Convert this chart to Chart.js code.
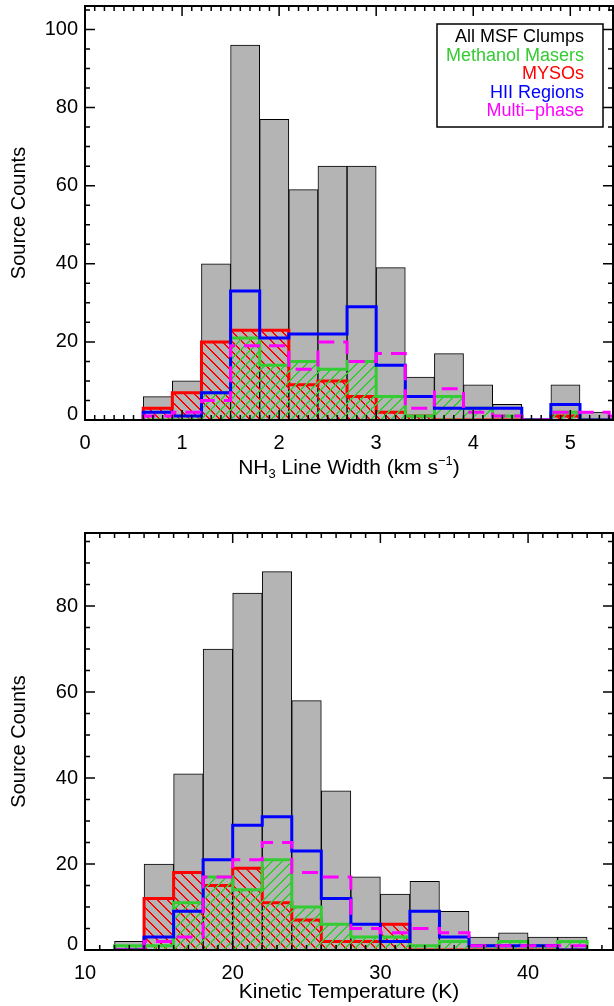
<!DOCTYPE html>
<html>
<head>
<meta charset="utf-8">
<script src="https://cdn.jsdelivr.net/npm/chart.js@4.4.0/dist/chart.umd.min.js"></script>
<style>
  html, body { margin: 0; padding: 0; background: #fff; }
  .panel { position: absolute; left: 0; width: 614px; height: 503px; }
</style>
</head>
<body>
<div class="panel" style="top:0"><canvas id="widthChart" width="614" height="503"></canvas></div>
<div class="panel" style="top:503px"><canvas id="tempChart" width="614" height="503"></canvas></div>
<script>
const FONT = "'Liberation Sans', Arial, Helvetica, sans-serif";

// legend (text only, right aligned, in a box)
const legendLabels = ['All MSF Clumps', 'Methanol Masers', 'MYSOs', 'HII Regions', 'Multi\u2212phase'];
const legendColors = ['#000000', '#33cc33', '#ff0000', '#0000ff', '#ff00ff'];

// NH3 line width histogram, bin edges in km/s
const widthEdges = [0.6, 0.9, 1.2, 1.5, 1.8, 2.1, 2.4, 2.7, 3.0, 3.3, 3.6, 3.9, 4.2, 4.5, 4.8, 5.1, 5.4, 5.7];
const widthAll     = [6, 10, 40, 96, 77, 59, 65, 65, 39, 11, 17, 9, 4, 0, 9, 2, 1];
const widthMasers  = [0, 0, 7, 21, 14, 15, 13, 15, 6, 1, 6, 3, 1, 0, 2, 0, 0];
const widthMYSOs   = [3, 7, 20, 23, 23, 9, 10, 6, 2, 1, 0, 0, 0, 0, 1, 0, 0];
const widthHII     = [2, 1, 7, 33, 21, 22, 22, 29, 14, 6, 3, 3, 3, 0, 4, 0, 0];
const widthMulti   = [1, 2, 5, 19, 19, 13, 20, 15, 17, 3, 8, 2, 1, 0, 2, 2, 1];
const widthTicks   = [0, 1, 2, 3, 4, 5];

// kinetic temperature histogram, bin edges in K
const tempEdges = [12, 14, 16, 18, 20, 22, 24, 26, 28, 30, 32, 34, 36, 38, 40, 42, 44];
const tempAll     = [2, 20, 41, 70, 83, 88, 58, 37, 17, 13, 16, 9, 3, 4, 3, 3];
const tempMasers  = [1, 1, 11, 17, 14, 21, 10, 6, 3, 3, 1, 2, 1, 2, 1, 2];
const tempMYSOs   = [0, 12, 18, 15, 19, 11, 7, 2, 2, 6, 0, 0, 0, 0, 0, 0];
const tempHII     = [0, 3, 9, 21, 29, 31, 23, 12, 6, 2, 9, 3, 1, 1, 1, 0];
const tempMulti   = [0, 2, 3, 17, 21, 25, 18, 17, 5, 4, 5, 4, 1, 1, 1, 1];
const tempTicks   = [10, 20, 30, 40];

const countTicks = [0, 20, 40, 60, 80, 100];

// crisp pixel hatch, dir > 0 is '/', otherwise '\'
function hatch(ctx, color, dir) {
  const c = document.createElement('canvas');
  c.width = c.height = 10;
  const g = c.getContext('2d');
  g.fillStyle = color;
  for (let i = 0; i < 10; i++) {
    const px = dir > 0 ? 9 - i : i;
    g.fillRect(px, i, 1, 1);
    g.fillRect((px + 1) % 10, i, 1, 1);
  }
  return ctx.createPattern(c, 'repeat');
}

// histogram outline points for a 'before' stepped line
function steps(edges, counts) {
  const pts = [{x: edges[0], y: 0}];
  counts.forEach((c, i) => pts.push({x: edges[i], y: c}));
  pts.push({x: edges[edges.length - 1], y: 0});
  return pts;
}

function centres(edges, counts) {
  return counts.map((c, i) => ({x: (edges[i] + edges[i + 1]) / 2, y: c}));
}

// frame with inward ticks on all four sides, tick labels, axis titles and the boxed legend
const decorPlugin = {
  id: 'decor',
  afterDatasetsDraw(chart, args, o) {
    const {ctx, chartArea: a, scales: {x, y}} = chart;
    ctx.save();
    ctx.strokeStyle = '#000';
    ctx.lineWidth = 1.5;
    ctx.beginPath();
    const tickRun = (scale, minor, major, draw) => {
      for (let i = Math.ceil(scale.min / minor - 1e-9); i * minor <= scale.max + 1e-9; i++) {
        const v = i * minor;
        const isMajor = Math.abs(v / major - Math.round(v / major)) < 1e-6;
        draw(scale.getPixelForValue(v), isMajor ? 10 : 5);
      }
    };
    tickRun(x, o.xMinor, o.xMajor, (px, len) => {
      ctx.moveTo(px, a.bottom); ctx.lineTo(px, a.bottom - len);
      ctx.moveTo(px, a.top); ctx.lineTo(px, a.top + len);
    });
    tickRun(y, o.yMinor, o.yMajor, (py, len) => {
      ctx.moveTo(a.left, py); ctx.lineTo(a.left + len, py);
      ctx.moveTo(a.right, py); ctx.lineTo(a.right - len, py);
    });
    ctx.stroke();
    ctx.lineWidth = 2;
    ctx.strokeRect(a.left, a.top, a.right - a.left, a.bottom - a.top);

    // tick labels
    ctx.fillStyle = '#000';
    ctx.font = '20px ' + FONT;
    ctx.textBaseline = 'middle';
    ctx.textAlign = 'center';
    o.xLabels.forEach(v => ctx.fillText(String(v), x.getPixelForValue(v), a.bottom + 23));
    ctx.textAlign = 'right';
    countTicks.filter(v => v <= y.max).forEach(v => {
      ctx.fillText(String(v), a.left - 7, y.getPixelForValue(v) - (v === 0 ? 6 : 0));
    });

    // x axis title, pieces for sub/superscripts
    ctx.textBaseline = 'alphabetic';
    ctx.textAlign = 'left';
    let w = 0;
    o.xTitle.forEach(p => { ctx.font = p.size + 'px ' + FONT; p.w = ctx.measureText(p.t).width; w += p.w; });
    let tx = (a.left + a.right) / 2 - w / 2;
    o.xTitle.forEach(p => {
      ctx.font = p.size + 'px ' + FONT;
      ctx.fillText(p.t, tx, a.bottom + o.xTitleOffset + p.dy);
      tx += p.w;
    });

    // y axis title
    ctx.save();
    ctx.translate(25, (a.top + a.bottom) / 2);
    ctx.rotate(-Math.PI / 2);
    ctx.textAlign = 'center';
    ctx.font = '20px ' + FONT;
    ctx.fillText('Source Counts', 0, 0);
    ctx.restore();

    if (o.legend) {
      ctx.lineWidth = 1.5;
      ctx.strokeRect(a.right - 176, a.top + 18, 166, 103);
      ctx.font = '18px ' + FONT;
      ctx.textAlign = 'right';
      ctx.textBaseline = 'middle';
      legendLabels.forEach((t, i) => {
        ctx.fillStyle = legendColors[i];
        ctx.fillText(t, a.right - 29, a.top + 31 + i * 18.6);
      });
    }
    ctx.restore();
  }
};

function makeChart(id, edges, all, masers, mysos, hii, multi, ticks, cfg) {
  const canvas = document.getElementById(id);
  const ctx = canvas.getContext('2d');
  const line = (data, color, order, extra) => Object.assign({
    type: 'line',
    data: steps(edges, data),
    borderColor: color,
    borderWidth: 3,
    pointRadius: 0,
    stepped: 'before',
    fill: false,
    order: order
  }, extra || {});

  cfg.decor.xLabels = ticks;

  return new Chart(ctx, {
    type: 'bar',
    data: {
      datasets: [
        {
          label: legendLabels[0],
          data: centres(edges, all),
          backgroundColor: '#b4b4b4',
          borderColor: '#000',
          borderWidth: 1,
          barPercentage: 1,
          categoryPercentage: 1,
          order: 5
        },
        line(mysos, legendColors[2], 4, {label: legendLabels[2], fill: 'origin', backgroundColor: hatch(ctx, '#ff0000', -1)}),
        line(masers, legendColors[1], 3, {label: legendLabels[1], fill: 'origin', backgroundColor: hatch(ctx, '#33cc33', 1)}),
        line(hii, legendColors[3], 2, {label: legendLabels[3]}),
        line(multi, legendColors[4], 1, {label: legendLabels[4], borderDash: [16, 9]})
      ]
    },
    options: {
      responsive: false,
      animation: false,
      devicePixelRatio: 1,
      layout: { padding: { top: cfg.top, right: 1, left: 0, bottom: 0 } },
      plugins: {
        legend: { display: false },
        tooltip: { enabled: false },
        decor: cfg.decor
      },
      scales: {
        x: {
          type: 'linear',
          min: cfg.xMin,
          max: cfg.xMax,
          offset: false,
          grid: { display: false, drawTicks: false },
          border: { display: false },
          ticks: { display: false },
          afterFit: s => { s.height = cfg.xHeight; }
        },
        y: {
          min: 0,
          max: cfg.yMax,
          grid: { display: false, drawTicks: false },
          border: { display: false },
          ticks: { display: false },
          afterFit: s => { s.width = 85; }
        }
      }
    },
    plugins: [decorPlugin]
  });
}

makeChart('widthChart', widthEdges, widthAll, widthMasers, widthMYSOs, widthHII, widthMulti, widthTicks, {
  top: 6, xHeight: 83, xMin: 0, xMax: 5.44, yMax: 106,
  decor: {
    xMinor: 0.1, xMajor: 1, yMinor: 5, yMajor: 20, legend: true, xTitleOffset: 54,
    xTitle: [
      {t: 'NH', size: 21, dy: 0},
      {t: '3', size: 13, dy: 4},
      {t: ' Line Width (km s', size: 21, dy: 0},
      {t: '\u22121', size: 13, dy: -9},
      {t: ')', size: 21, dy: 0}
    ]
  }
});

makeChart('tempChart', tempEdges, tempAll, tempMasers, tempMYSOs, tempHII, tempMulti, tempTicks, {
  top: 30, xHeight: 56, xMin: 10, xMax: 45.75, yMax: 97,
  decor: {
    xMinor: 1, xMajor: 10, yMinor: 5, yMajor: 20, legend: false, xTitleOffset: 48,
    xTitle: [{t: 'Kinetic Temperature (K)', size: 21, dy: 0}]
  }
});
</script>
</body>
</html>
